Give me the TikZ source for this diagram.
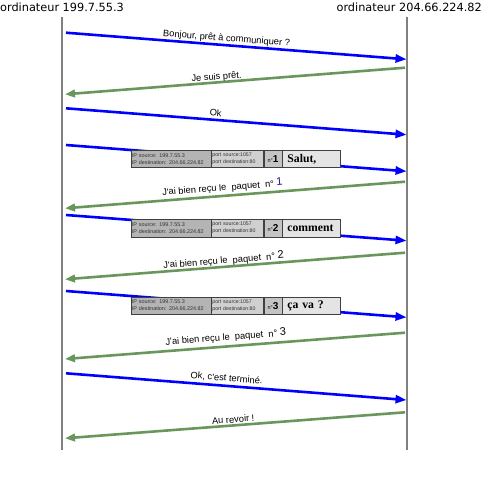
\documentclass[tikz,border=0pt]{standalone}
\usepackage{fontspec}
\setmainfont{Liberation Sans}
\newfontfamily\titlefont{DejaVu Sans}
\newfontfamily\serifbf{Liberation Serif}
\usetikzlibrary{arrows.meta}
\definecolor{ackgreen}{RGB}{104,150,92}
\definecolor{lifegray}{RGB}{128,128,128}
\definecolor{numnavy}{RGB}{20,20,130}
\definecolor{cellAfill}{RGB}{180,180,180}
\definecolor{cellBfill}{RGB}{208,208,208}
\definecolor{cellCfill}{RGB}{196,196,196}
\definecolor{cellDfill}{RGB}{228,228,228}
\newcommand\pkt[4]{%
  \node[cellA] (#1ip) at (130.7,#2) {IP source: 199.7.55.3\\IP destination: 204.66.224.82};
  \node[cellB] (#1port) at (#1ip.north east) {port source:1057\\port destination:80};
  \node[cellC] (#1num) at (#1port.north east) {{\fontsize{5.5}{6}\selectfont n°}{\bfseries\fontsize{10}{10}\selectfont #3}};
  \node[cellD] (#1data) at (#1num.north east) {#4};
}
\begin{document}
\begin{tikzpicture}[x=1pt,y=-1pt,
  title/.style={font=\titlefont\fontsize{11.3}{12}\selectfont, inner sep=0pt},
  lifeline/.style={draw=lifegray, line width=2pt},
  msg/.style={draw=blue, line width=2.6pt, -{Triangle[length=11pt,width=8pt]}},
  ack/.style={draw=ackgreen, line width=2.6pt, -{Triangle[length=10pt,width=7.5pt]}},
  lbl/.style={sloped, inner sep=0pt, text=black, font=\fontsize{9.3}{10}\selectfont},
  cellbase/.style={draw=black!75, line width=0.5pt, anchor=north west, minimum height=17.3pt, align=left, inner ysep=0pt},
  cellA/.style={cellbase, fill=cellAfill, text=black!80, text width=78pt, inner xsep=1pt, font=\fontsize{5.4}{7}\selectfont},
  cellB/.style={cellbase, fill=cellBfill, text=black!80, text width=50pt, inner xsep=1pt, font=\fontsize{5.2}{7}\selectfont},
  cellC/.style={cellbase, fill=cellCfill, text width=18pt, inner xsep=0pt, align=center},
  cellD/.style={cellbase, fill=cellDfill, text width=47.6pt, inner xsep=5pt, font=\serifbf\bfseries\fontsize{11.7}{12}\selectfont},
]
\useasboundingbox (0,0) rectangle (482,480);

% titles
\node[title, anchor=base west] (t1) at (0,11) {ordinateur 199.7.55.3};
\node[title, anchor=base east] (t2) at (482,11) {ordinateur 204.66.224.82};

% lifelines
\coordinate (L1) at (62,17);
\coordinate (L2) at (62,449.5);
\coordinate (R1) at (407,17);
\coordinate (R2) at (407,449.5);
\draw[lifeline] (L1) -- (L2);
\draw[lifeline] (R1) -- (R2);

% message end points
\coordinate (m1s) at (66,32.7);   \coordinate (m1e) at (406.5,59.3);
\coordinate (a2s) at (405,67.7);  \coordinate (a2e) at (65,94.3);
\coordinate (m3s) at (66,108.3);  \coordinate (m3e) at (406.5,134.7);
\coordinate (m4s) at (66,145);    \coordinate (m4e) at (406.5,171.3);
\coordinate (a5s) at (405,181.7); \coordinate (a5e) at (65,208.3);
\coordinate (m6s) at (66,215);    \coordinate (m6e) at (406.5,240.7);
\coordinate (a7s) at (405,252.7); \coordinate (a7e) at (65,279.3);
\coordinate (m8s) at (66,291);    \coordinate (m8e) at (406.5,317.3);
\coordinate (a9s) at (405,332.7); \coordinate (a9e) at (65,359);
\coordinate (m10s) at (66,373.3); \coordinate (m10e) at (406.5,400);
\coordinate (a11s) at (405,412.3);\coordinate (a11e) at (65,438.3);

\draw[msg] (m1s) -- node[lbl, pos=0.47, yshift=6.5pt] (l1) {Bonjour, prêt à communiquer ?} (m1e);
\draw[ack] (a2s) -- node[lbl, pos=0.553, yshift=5pt] (l2) {Je suis prêt.} (a2e);
\draw[msg] (m3s) -- node[lbl, pos=0.438, yshift=7pt] (l3) {Ok} (m3e);
\draw[msg] (m4s) -- (m4e);
\draw[ack] (a5s) -- node[lbl, pos=0.535, yshift=8.5pt] (l5) {J\textquotesingle ai bien reçu le\ \ paquet\ \ n° \raisebox{1pt}{\textcolor{numnavy}{\fontsize{11}{11}\selectfont 1}}} (a5e);
\draw[msg] (m6s) -- (m6e);
\draw[ack] (a7s) -- node[lbl, pos=0.532, yshift=6.5pt] (l7) {J\textquotesingle ai bien reçu le\ \ paquet\ \ n° \raisebox{1pt}{\fontsize{11}{11}\selectfont 2}} (a7e);
\draw[msg] (m8s) -- (m8e);
\draw[ack] (a9s) -- node[lbl, pos=0.525, yshift=9.5pt] (l9) {J\textquotesingle ai bien reçu le\ \ paquet\ \ n° \raisebox{1pt}{\fontsize{11}{11}\selectfont 3}} (a9e);
\draw[msg] (m10s) -- node[lbl, pos=0.47, yshift=7.5pt] (l10) {Ok, c\textquotesingle est terminé.} (m10e);
\draw[ack] (a11s) -- node[lbl, pos=0.504, yshift=6pt] (l11) {Au revoir !} (a11e);

% packets
\pkt{pa}{150}{1}{Salut,}
\pkt{pb}{219.3}{2}{comment}
\pkt{pc}{296.7}{3}{ça va ?}
\end{tikzpicture}
\end{document}
